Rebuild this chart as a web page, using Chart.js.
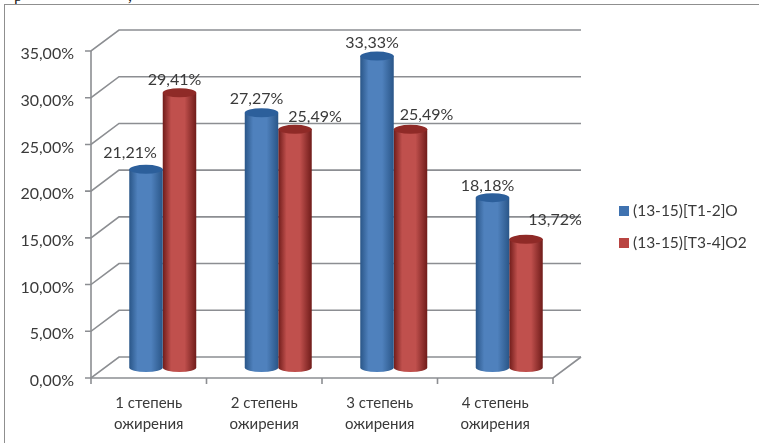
<!DOCTYPE html>
<html>
<head>
<meta charset="utf-8">
<style>
  html, body { margin: 0; padding: 0; background: #fff; overflow: hidden; }
  #wrap { position: absolute; left: 0; top: 0; width: 759px; height: 443px; overflow: hidden; }
  #frame { position: absolute; left: 4px; top: 4px; width: 770px; height: 460px; border: 1.5px solid #8f8f8f; box-sizing: border-box; }
  .cut { position: absolute; top: -13px; font: 16px "Liberation Serif", serif; color: #111; }
  canvas { position: absolute; left: 0; top: 0; }
</style>
</head>
<body>
<div id="wrap">
  <div class="cut" style="left:14px">р</div>
  <div class="cut" style="left:128px">,</div>
  <div id="frame"></div>
  <canvas id="obesityChart" width="759" height="443"></canvas>
</div>
<script src="https://cdn.jsdelivr.net/npm/chart.js@4/dist/chart.umd.min.js"></script>
<script>
var categories = [['1 степень', 'ожирения'], ['2 степень', 'ожирения'], ['3 степень', 'ожирения'], ['4 степень', 'ожирения']];
var seriesNames = ['(13-15)[T1-2]O', '(13-15)[T3-4]O2'];
var seriesT12 = [21.21, 27.27, 33.33, 18.18];
var seriesT34 = [29.41, 25.49, 25.49, 13.72];

// how far the back wall sits from the front of the floor
var DEPTH_X = 28, DEPTH_Y = 21;
var FONT = 'Lato, Carlito, sans-serif';
var GRID = '#8c8e92';
var TEXT = '#3a3a3a';

var barColors = [
  { edge: '#2a5688', mid: '#4f81bd', cap: '#2c5f9b' },
  { edge: '#701c1a', mid: '#c0504d', cap: '#8f2a27' }
];

// nudges for the value labels, relative to the top of each cylinder
var labelShift = [
  [[-16, -8], [-5, -6], [-5, -5], [-5, -4]],
  [[-5, -5], [20, -5], [16, -7], [29, -11]]
];

function fmt(v) { return v.toFixed(2).replace('.', ',') + '%'; }

var wallPlugin = {
  id: 'wall',
  beforeDatasetsDraw: function (chart) {
    var c = chart.ctx, a = chart.chartArea, y = chart.scales.y;
    c.save();
    c.strokeStyle = GRID;
    c.lineWidth = 1.6;
    y.ticks.forEach(function (t) {
      var py = y.getPixelForValue(t.value);
      c.beginPath();
      c.moveTo(a.left - 6, py);
      c.lineTo(a.left, py);
      c.lineTo(a.left + DEPTH_X, py - DEPTH_Y);
      c.lineTo(a.right + DEPTH_X, py - DEPTH_Y);
      c.stroke();
    });
    // left wall edge, floor and its far side
    c.beginPath();
    c.moveTo(a.left, a.top);
    c.lineTo(a.left, a.bottom);
    c.lineTo(a.right, a.bottom);
    c.lineTo(a.right + DEPTH_X, a.bottom - DEPTH_Y);
    c.stroke();
    var n = chart.scales.x.ticks.length;
    for (var i = 0; i <= n; i++) {
      var px = a.left + (a.right - a.left) * i / n;
      c.beginPath();
      c.moveTo(px, a.bottom);
      c.lineTo(px, a.bottom + 6);
      c.stroke();
    }
    c.restore();
  }
};

function drawCylinder(c, bar, colors) {
  var w = bar.width, rx = w / 2, ry = 4.5;
  var cx = bar.x + DEPTH_X / 2;
  var top = bar.y - DEPTH_Y / 2, base = bar.base - DEPTH_Y / 2;
  var g = c.createLinearGradient(cx - rx, 0, cx + rx, 0);
  g.addColorStop(0, colors.edge);
  g.addColorStop(0.25, colors.mid);
  g.addColorStop(0.65, colors.mid);
  g.addColorStop(1, colors.edge);
  c.fillStyle = g;
  c.beginPath();
  c.moveTo(cx - rx, top);
  c.lineTo(cx - rx, base);
  c.ellipse(cx, base, rx, ry, 0, Math.PI, 0, true);
  c.lineTo(cx + rx, top);
  c.closePath();
  c.fill();
  c.fillStyle = colors.cap;
  c.beginPath();
  c.ellipse(cx, top, rx, ry, 0, 0, Math.PI * 2);
  c.fill();
}

var cylinderPlugin = {
  id: 'cylinders',
  // replaces the flat rectangles with shaded cylinders
  beforeDatasetDraw: function (chart, args) {
    var colors = barColors[args.index];
    args.meta.data.forEach(function (bar) {
      drawCylinder(chart.ctx, bar, colors);
    });
    return false;
  },
  afterDatasetsDraw: function (chart) {
    var c = chart.ctx;
    c.save();
    c.font = '16px ' + FONT;
    c.fillStyle = TEXT;
    c.textAlign = 'center';
    c.textBaseline = 'bottom';
    chart.data.datasets.forEach(function (ds, i) {
      chart.getDatasetMeta(i).data.forEach(function (bar, j) {
        var s = labelShift[i][j];
        c.fillText(fmt(ds.data[j]), bar.x + DEPTH_X / 2 + s[0], bar.y - DEPTH_Y / 2 + s[1]);
      });
    });
    c.restore();
  }
};

// legend sits lower than the built-in one would, so it is drawn here
var keyPlugin = {
  id: 'key',
  afterDraw: function (chart) {
    var c = chart.ctx;
    c.save();
    c.font = '15.5px ' + FONT;
    c.textBaseline = 'middle';
    chart.data.datasets.forEach(function (ds, i) {
      var y = 211 + i * 32;
      c.fillStyle = ds.backgroundColor;
      c.fillRect(619, y - 5, 10, 10);
      c.fillStyle = TEXT;
      c.fillText(ds.label, 633, y);
    });
    c.restore();
  }
};

new Chart(document.getElementById('obesityChart').getContext('2d'), {
  type: 'bar',
  data: {
    labels: categories,
    datasets: [
      { label: seriesNames[0], data: seriesT12, backgroundColor: '#3f72b0' },
      { label: seriesNames[1], data: seriesT34, backgroundColor: '#b94441' }
    ]
  },
  options: {
    responsive: false,
    animation: false,
    layout: { padding: { top: 51, right: 206 } },
    categoryPercentage: 0.58,
    barPercentage: 1,
    scales: {
      x: {
        afterFit: function (s) { s.height = 65; },
        grid: { display: false },
        border: { display: false },
        ticks: { color: TEXT, font: { family: FONT, size: 15, lineHeight: 1.4 }, maxRotation: 0, padding: 7 }
      },
      y: {
        min: 0,
        max: 35,
        afterFit: function (s) { s.width = 91; },
        grid: { display: false },
        border: { display: false },
        ticks: { stepSize: 5, color: TEXT, padding: 9, labelOffset: 3, font: { family: FONT, size: 16 }, callback: fmt }
      }
    },
    plugins: {
      legend: { display: false },
      tooltip: { enabled: false }
    }
  },
  plugins: [wallPlugin, cylinderPlugin, keyPlugin]
});
</script>
</body>
</html>
